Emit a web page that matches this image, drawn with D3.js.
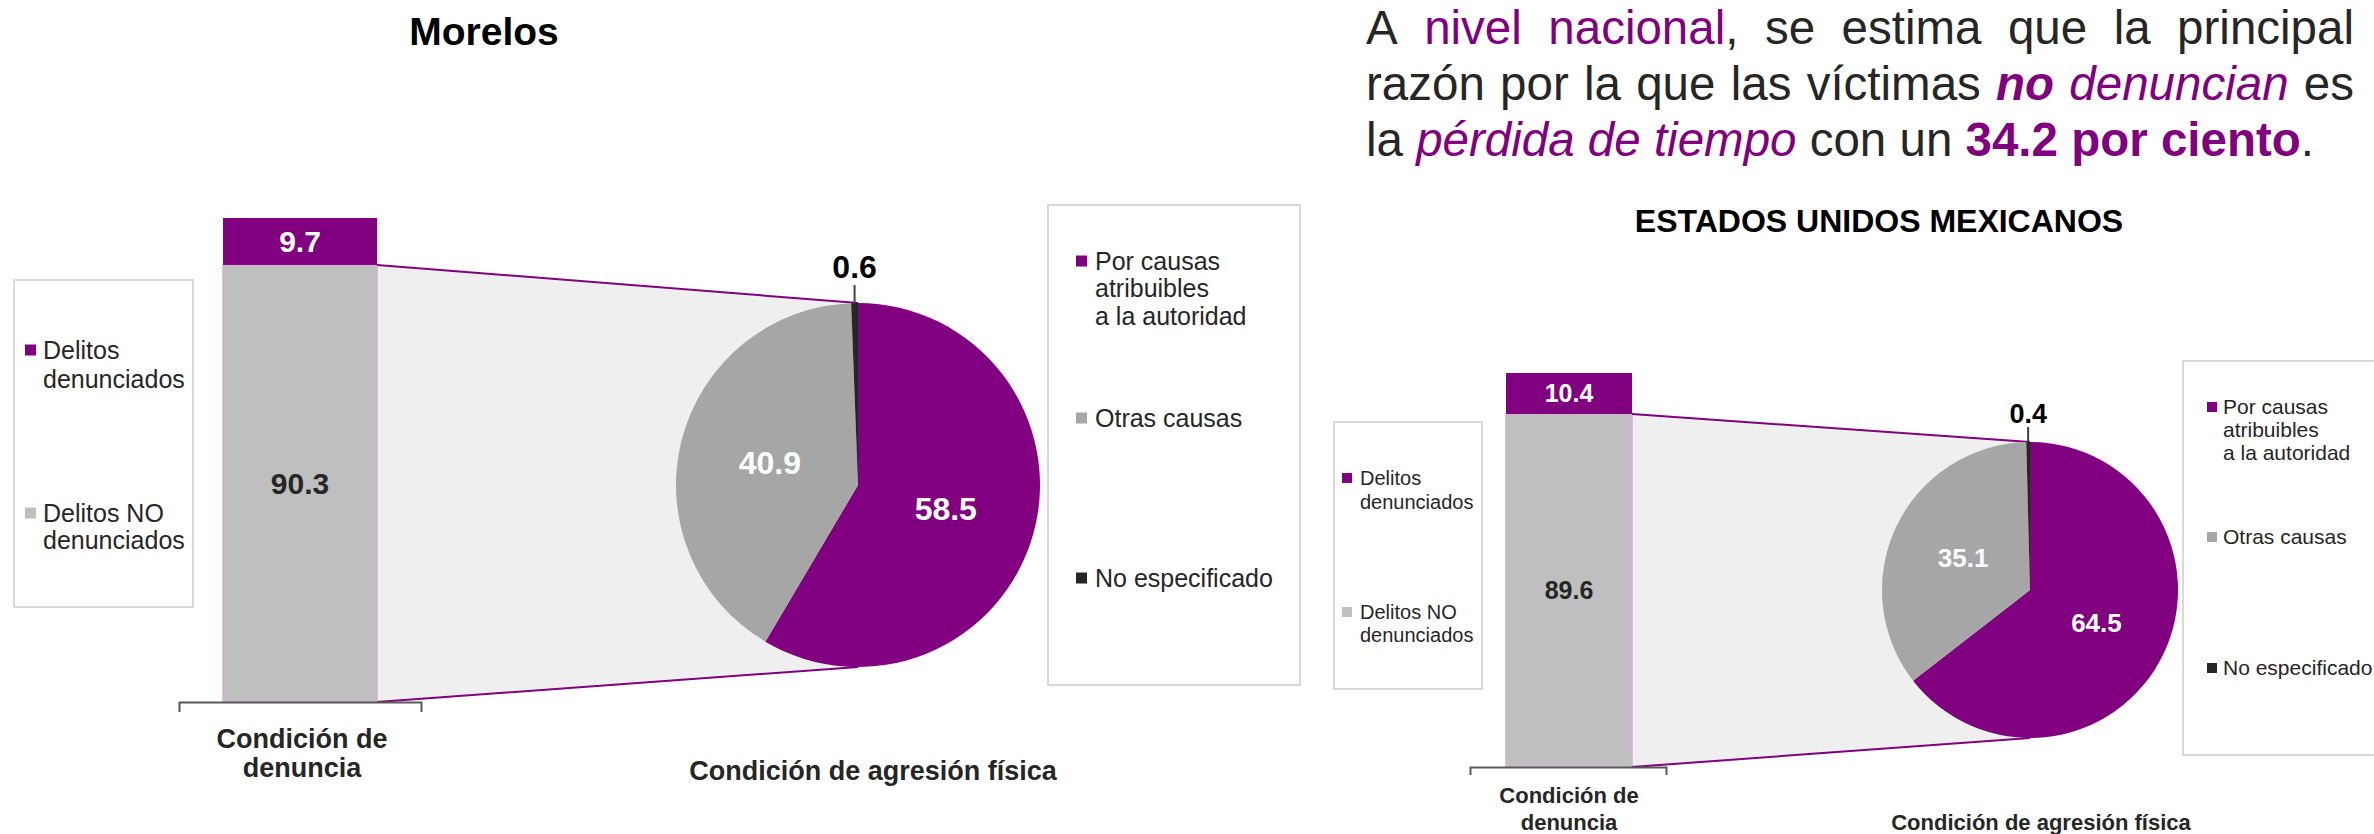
<!DOCTYPE html>
<html>
<head>
<meta charset="utf-8">
<script src="https://cdn.jsdelivr.net/npm/d3@7/dist/d3.min.js"></script>
<style>
  html, body { margin: 0; padding: 0; background: #fff; }
  svg { display: block; }
  text { font-family: "Liberation Sans", Arial, sans-serif; }
</style>
</head>
<body>
<svg id="chart" width="2374" height="834"></svg>
<script>
// ---------------- DATA ----------------
const denunciaCategories = ["Delitos denunciados", "Delitos NO denunciados"];
const denunciaLegendLines = [["Delitos", "denunciados"], ["Delitos NO", "denunciados"]];
const agresionCategories = ["Por causas atribuibles a la autoridad", "Otras causas", "No especificado"];
const agresionLegendLines = [["Por causas", "atribuibles", "a la autoridad"], ["Otras causas"], ["No especificado"]];

const morelosDenuncia = [9.7, 90.3];        // denunciados, NO denunciados
const morelosAgresion = [58.5, 40.9, 0.6];  // autoridad, otras, no especificado
const nacionalDenuncia = [10.4, 89.6];
const nacionalAgresion = [64.5, 35.1, 0.4];

const panelTitles = ["Morelos", "ESTADOS UNIDOS MEXICANOS"];
const axisTitleDenuncia = ["Condición de", "denuncia"];
const axisTitleAgresion = "Condición de agresión física";

// paragraph: lines of words, each word = runs [text, style]
const paragraphLines = [
  [[["A","n"]], [["nivel","p"]], [["nacional","p"],[",","n"]], [["se","n"]], [["estima","n"]], [["que","n"]], [["la","n"]], [["principal","n"]]],
  [[["razón","n"]], [["por","n"]], [["la","n"]], [["que","n"]], [["las","n"]], [["víctimas","n"]], [["no","pbi"]], [["denuncian","pi"]], [["es","n"]]],
  [[["la","n"]], [["pérdida","pi"]], [["de","pi"]], [["tiempo","pi"]], [["con","n"]], [["un","n"]], [["34.2","pb"]], [["por","pb"]], [["ciento","pb"],[".","n"]]]
];

// ---------------- STYLE ----------------
const PURPLE = "#800080";
const BAR_GRAY = "#bfbfbf";
const PIE_GRAY = "#a6a6a6";
const DARK = "#262626";
const denunciaColors = [PURPLE, BAR_GRAY];
const agresionColors = [PURPLE, PIE_GRAY, DARK];

const svg = d3.select("#chart");
svg.append("rect").attr("width", 2374).attr("height", 834).attr("fill", "#fff");

function drawPanel(cfg, denuncia, agresion, title) {
  const g = svg.append("g");

  // title
  g.append("text").attr("x", cfg.titleX).attr("y", cfg.titleY)
    .attr("text-anchor", "middle").attr("font-weight", "bold")
    .attr("font-size", cfg.titleSize).attr("fill", "#000").text(title);

  // legend boxes
  function legend(box, lines, colors, ys, sqX, txX, fs, sq) {
    g.append("rect").attr("x", box[0]).attr("y", box[1])
      .attr("width", box[2] - box[0]).attr("height", box[3] - box[1])
      .attr("fill", "#fff").attr("stroke", "#d9d9d9").attr("stroke-width", 2);
    lines.forEach((ls, i) => {
      g.append("rect").attr("x", sqX).attr("y", ys[i][0] - sq / 2)
        .attr("width", sq).attr("height", sq).attr("fill", colors[i]);
      ls.forEach((l, j) => {
        g.append("text").attr("x", txX).attr("y", ys[i][j])
          .attr("dy", "0.35em").attr("font-size", fs).attr("fill", DARK).text(l);
      });
    });
  }
  legend(cfg.legL, denunciaLegendLines, denunciaColors, cfg.legLY, cfg.legLSq, cfg.legLTx, cfg.legLFont, cfg.sqL);
  legend(cfg.legR, agresionLegendLines, agresionColors, cfg.legRY, cfg.legRSq, cfg.legRTx, cfg.legRFont, cfg.sqR);

  // bar scales
  const y = d3.scaleLinear().domain([0, 100]).range([cfg.barBottom, cfg.barTop]);
  const xBand = d3.scaleBand().domain(["denuncia"]).range([cfg.axisX0, cfg.axisX1]).padding(0);
  const barX0 = cfg.barX0, barX1 = cfg.barX1;

  // stacked: NO denunciados at bottom, denunciados on top
  const stackOrder = [1, 0];
  let acc = 0;
  const segs = stackOrder.map(i => { const s = { i, y0: acc, y1: acc + denuncia[i] }; acc += denuncia[i]; return s; });

  const grayTop = y(denuncia[1]);
  const pie = d3.pie().sort(null).startAngle(0).endAngle(2 * Math.PI);
  const arcs = pie(agresion);
  const arc = d3.arc().innerRadius(0).outerRadius(cfg.r);
  const cx = cfg.cx, cy = cfg.cy, r = cfg.r;

  // connector fill
  g.append("path")
    .attr("d", d3.line()([[barX1, grayTop], [cx, cy - r], [cx, cy + r], [barX1, y(0)]]) + "Z")
    .attr("fill", "#efefef");

  // bars
  g.selectAll(".seg").data(segs).join("rect")
    .attr("x", barX0).attr("width", barX1 - barX0)
    .attr("y", d => y(d.y1)).attr("height", d => y(d.y0) - y(d.y1))
    .attr("fill", d => denunciaColors[d.i])
    .attr("stroke", d => d.i === 1 ? "#d4b0d4" : "none").attr("stroke-width", 1.5);

  // connector lines
  g.append("line").attr("x1", barX1).attr("y1", grayTop).attr("x2", cx).attr("y2", cy - r)
    .attr("stroke", PURPLE).attr("stroke-width", 2);
  g.append("line").attr("x1", barX1).attr("y1", y(0)).attr("x2", cx).attr("y2", cy + r)
    .attr("stroke", PURPLE).attr("stroke-width", 2);

  // bracket axis
  const axis = d3.axisBottom(xBand).tickValues([]).tickSizeOuter(cfg.tick);
  const ax = g.append("g").attr("transform", `translate(0,${y(0)})`).call(axis);
  ax.select(".domain").attr("stroke", "#595959").attr("stroke-width", 2);

  // bar labels
  segs.forEach(s => {
    g.append("text").attr("x", (barX0 + barX1) / 2).attr("y", (y(s.y0) + y(s.y1)) / 2)
      .attr("dy", "0.35em").attr("text-anchor", "middle").attr("font-weight", "bold")
      .attr("font-size", cfg.barFont).attr("fill", s.i === 0 ? "#fff" : DARK)
      .text(denuncia[s.i].toFixed(1));
  });

  // pie
  const pg = g.append("g").attr("transform", `translate(${cx},${cy})`);
  pg.selectAll("path").data(arcs).join("path")
    .attr("d", arc).attr("fill", (d, i) => agresionColors[i]);

  arcs.forEach((a, i) => {
    if (i < 2) {
      const c = arc.centroid(a);
      pg.append("text").attr("x", c[0]).attr("y", c[1]).attr("dy", "0.35em")
        .attr("text-anchor", "middle").attr("font-weight", "bold")
        .attr("font-size", cfg.pieFont).attr("fill", "#fff").text(agresion[i].toFixed(1));
    } else {
      const mid = (a.startAngle + a.endAngle) / 2;
      const px = Math.sin(mid) * r, py = -Math.cos(mid) * r;
      pg.append("line").attr("x1", px).attr("y1", py).attr("x2", px).attr("y2", py - cfg.leader)
        .attr("stroke", "#404040").attr("stroke-width", 2);
      pg.append("text").attr("x", px).attr("y", py - cfg.leader - cfg.leaderGap)
        .attr("text-anchor", "middle").attr("font-weight", "bold")
        .attr("font-size", cfg.smallFont).attr("fill", "#000").text(agresion[i].toFixed(1));
    }
  });

  // axis titles
  axisTitleDenuncia.forEach((t, j) => {
    g.append("text").attr("x", cfg.at1X).attr("y", cfg.at1Y[j])
      .attr("text-anchor", "middle").attr("font-weight", "bold")
      .attr("font-size", cfg.atFont).attr("fill", DARK).text(t);
  });
  g.append("text").attr("x", cfg.at2X).attr("y", cfg.at2Y)
    .attr("text-anchor", "middle").attr("font-weight", "bold")
    .attr("font-size", cfg.atFont).attr("fill", DARK).text(axisTitleAgresion);
}

drawPanel({
  titleX: 484, titleY: 45, titleSize: 39,
  legL: [14, 280, 193, 607], legLY: [[350, 379], [513, 540]], legLSq: 25, legLTx: 43, legLFont: 25, sqL: 11,
  legR: [1048, 205, 1300, 685], legRY: [[261, 288, 316], [418], [578]], legRSq: 1076, legRTx: 1095, legRFont: 25, sqR: 11,
  barX0: 223, barX1: 377, barTop: 218, barBottom: 702,
  axisX0: 179, axisX1: 421, tick: 10,
  cx: 858, cy: 485, r: 182,
  barFont: 30, pieFont: 32, smallFont: 32, leader: 18, leaderGap: 7,
  at1X: 302, at1Y: [748, 777], at2X: 873, at2Y: 780, atFont: 27
}, morelosDenuncia, morelosAgresion, panelTitles[0]);

drawPanel({
  titleX: 1879, titleY: 232, titleSize: 32,
  legL: [1334, 422, 1482, 689], legLY: [[478, 502], [612, 635]], legLSq: 1342, legLTx: 1360, legLFont: 20, sqL: 10,
  legR: [2183, 361, 2390, 755], legRY: [[407, 430, 453], [537], [668]], legRSq: 2207, legRTx: 2223, legRFont: 21, sqR: 10,
  barX0: 1506, barX1: 1632, barTop: 373, barBottom: 767,
  axisX0: 1470, axisX1: 1666, tick: 8,
  cx: 2030, cy: 590, r: 148,
  barFont: 25, pieFont: 26, smallFont: 27, leader: 15, leaderGap: 4,
  at1X: 1569, at1Y: [803, 830], at2X: 2041, at2Y: 830, atFont: 22
}, nacionalDenuncia, nacionalAgresion, panelTitles[1]);

// ---------------- PARAGRAPH ----------------
const PX0 = 1366, PX1 = 2354, PFONT = 47.5;
const baselines = [44, 100, 156];
function styleRun(ts, st) {
  ts.attr("fill", st.includes("p") ? PURPLE : DARK)
    .attr("font-weight", st.includes("b") ? "bold" : "normal")
    .attr("font-style", st.includes("i") ? "italic" : "normal");
}
paragraphLines.forEach((words, li) => {
  const els = words.map(runs => {
    const t = svg.append("text").attr("y", baselines[li]).attr("font-size", PFONT);
    runs.forEach(([txt, st]) => styleRun(t.append("tspan").text(txt), st));
    return t;
  });
  const widths = els.map(t => t.node().getComputedTextLength());
  const total = d3.sum(widths);
  const justify = li < paragraphLines.length - 1;
  const gap = justify ? (PX1 - PX0 - total) / (words.length - 1) : PFONT * 0.278;
  let x = PX0;
  els.forEach((t, i) => { t.attr("x", x); x += widths[i] + gap; });
});
</script>
</body>
</html>
